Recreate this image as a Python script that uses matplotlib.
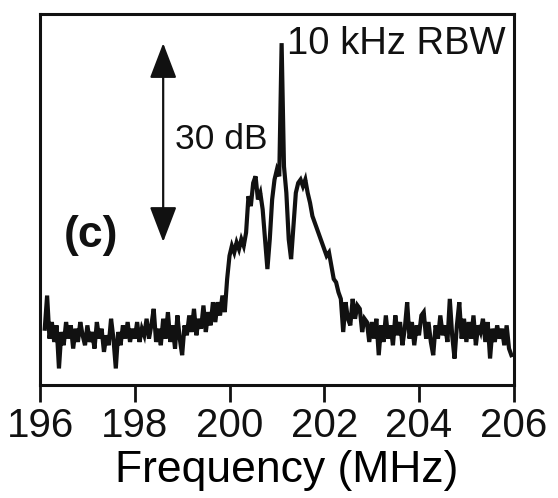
import numpy as np
import matplotlib
matplotlib.use("Agg")
import matplotlib.pyplot as plt

plt.rcParams['font.family'] = ['Liberation Sans', 'DejaVu Sans']

# Spectrum sampled every 0.05 MHz starting at 196.10 MHz (relative power, dB)
freq_start = 196.10
freq_step = 0.05
power_db = [
    # 196.10 - 196.95
    8.5, 13.5, 7.0, 9.5, 6.5, 9.0, 2.5, 8.0, 6.0, 9.5, 7.0, 9.0, 5.5, 8.5, 6.5, 9.5, 7.5, 6.0,
    # 197.00 - 197.95
    9.0, 6.5, 8.0, 5.5, 9.5, 7.0, 8.5, 5.0, 7.5, 6.0, 10.0, 7.0, 2.5, 8.0, 6.0, 9.0, 7.0, 9.5, 6.5, 8.5,
    # 198.00 - 198.95
    7.0, 9.5, 6.5, 8.5, 7.5, 10.0, 7.0, 9.0, 11.5, 6.5, 8.5, 6.0, 10.0, 7.0, 11.0, 6.5, 9.0, 5.5, 10.5, 7.0,
    # 199.00 - 199.95
    4.5, 9.0, 7.5, 10.5, 8.0, 11.5, 7.5, 10.0, 8.5, 12.0, 8.0, 11.0, 9.0, 12.5, 9.5, 12.5, 10.5, 13.5, 11.0, 16.0,
    # 200.00 - 200.95
    19.5, 21.0, 20.0, 21.5, 20.5, 22.0, 21.0, 23.0, 28.5, 27.0, 30.5, 31.5, 28.0, 29.0, 26.5, 22.0, 17.5, 22.0, 28.0, 31.0,
    # 201.00 - 201.95
    32.5, 31.5, 51.6, 33.0, 29.0, 22.0, 19.0, 24.0, 29.0, 30.5, 31.0, 30.0, 31.0, 29.0, 27.5, 25.5, 24.5, 23.5, 22.5, 21.5,
    # 202.00 - 202.95
    20.5, 19.5, 20.0, 18.0, 16.0, 15.5, 14.0, 13.0, 8.0, 12.5, 10.0, 9.0, 13.0, 10.0, 12.0, 11.5, 8.0, 10.0, 9.5, 6.5,
    # 203.00 - 203.95
    9.5, 7.0, 10.0, 4.5, 9.0, 6.5, 10.5, 7.0, 9.0, 6.0, 10.5, 7.5, 9.5, 6.0, 8.5, 12.5, 7.0, 9.5, 6.0, 9.0,
    # 204.00 - 204.95
    7.5, 10.5, 11.0, 7.0, 9.5, 6.5, 4.5, 9.0, 7.0, 10.5, 7.5, 9.0, 6.5, 13.0, 7.5, 4.0, 9.0, 12.5, 7.0, 10.0,
    # 205.00 - 205.95
    6.5, 9.5, 7.0, 10.5, 6.0, 9.0, 8.0, 10.0, 6.5, 9.5, 4.0, 8.5, 6.5, 9.0, 7.0, 8.5, 6.0, 9.0, 5.5, 4.5,
]
freq = freq_start + freq_step * np.arange(len(power_db))

x_ticks = [196, 198, 200, 202, 204, 206]
x_label = "Frequency (MHz)"
arrow_top_db = 51.6
arrow_bottom_db = 21.6
arrow_freq = 198.6

fig = plt.figure(figsize=(5.58, 4.98), dpi=100)
ax = fig.add_axes([0.0717, 0.2269, 0.849, 0.745])

ax.plot(freq, power_db, color='#111111', lw=3.0, solid_joinstyle='miter')

ax.set_xlim(196, 206)
ax.set_ylim(0, 56)
ax.set_xticks(x_ticks)
ax.set_xticklabels([str(t) for t in x_ticks], fontsize=29)
ax.set_yticks([])
ax.tick_params(axis='x', direction='out', length=12, width=2.0, pad=4, colors='#111111')
for s in ax.spines.values():
    s.set_linewidth(2.2)
    s.set_color('#111111')
ax.set_xlabel(x_label, fontsize=32, labelpad=0)
ax.xaxis.set_label_coords(0.52, -0.175)

# 30 dB double-headed arrow
ax.annotate('', xy=(arrow_freq, arrow_top_db), xytext=(arrow_freq, arrow_bottom_db),
            arrowprops=dict(arrowstyle='<|-|>,head_length=1.1,head_width=0.42',
                            mutation_scale=20, lw=1.6, color='#111111',
                            shrinkA=0, shrinkB=0))
ax.text(198.85, 37.0, '30 dB', fontsize=25.5, ha='left', va='center', color='#111111')
ax.text(201.22, 51.5, '10 kHz RBW', fontsize=27.5, ha='left', va='center', color='#111111')
ax.text(196.5, 22.5, '(c)', fontsize=32, fontweight='bold', ha='left', va='center', color='#111111')

fig.savefig('out.png', dpi=100)
